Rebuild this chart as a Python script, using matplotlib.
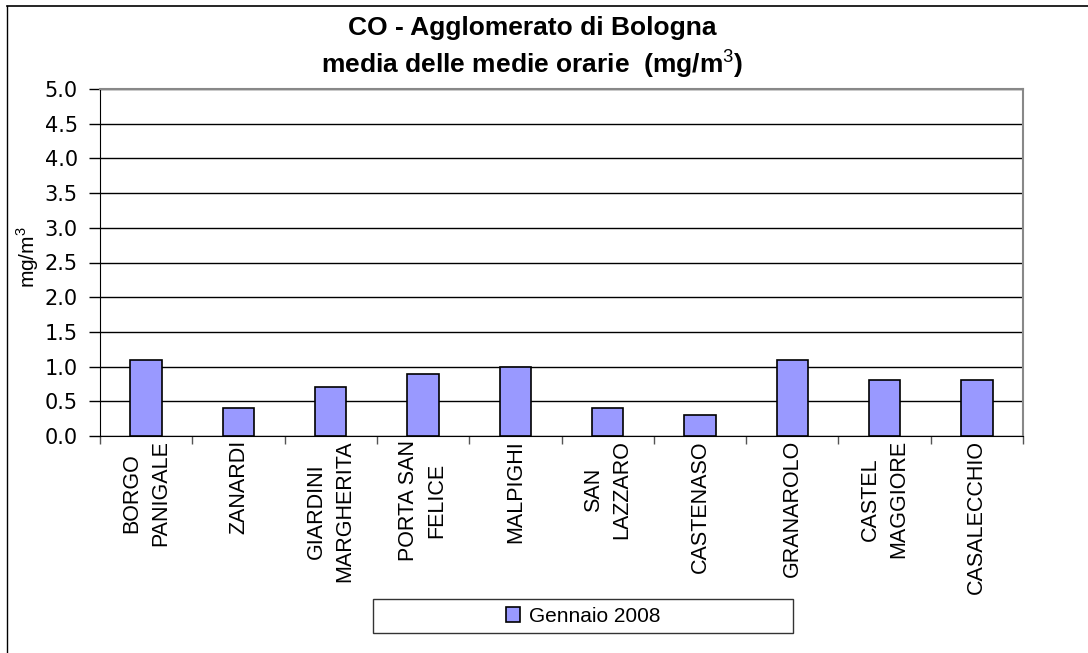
import matplotlib
matplotlib.use("Agg")
import numpy as np
import matplotlib.pyplot as plt
from matplotlib.lines import Line2D
from matplotlib.patches import Rectangle

# dati
stazioni = ['BORGO\nPANIGALE', 'ZANARDI', 'GIARDINI\nMARGHERITA', 'PORTA SAN\nFELICE',
            'MALPIGHI', 'SAN\nLAZZARO', 'CASTENASO', 'GRANAROLO', 'CASTEL\nMAGGIORE',
            'CASALECCHIO']
gennaio_2008 = [1.1, 0.4, 0.7, 0.9, 1.0, 0.4, 0.3, 1.1, 0.8, 0.8]
yticks = [0.0, 0.5, 1.0, 1.5, 2.0, 2.5, 3.0, 3.5, 4.0, 4.5, 5.0]

plt.rcParams['font.family'] = ['Liberation Sans', 'DejaVu Sans']
plt.rcParams['mathtext.fontset'] = 'custom'
plt.rcParams['mathtext.rm'] = 'Liberation Sans'

W, H = 1088, 653
fig = plt.figure(figsize=(W/100, H/100), dpi=100)
ax = fig.add_axes([100/W, 1-436/H, 923/W, 347/H])

x = np.arange(len(stazioni))
ax.bar(x, gennaio_2008, width=0.34, color='#9999FF', edgecolor='black',
       linewidth=1.2, zorder=3, label='Gennaio 2008')

ax.set_xlim(-0.5, len(stazioni)-0.5)
ax.set_ylim(0, 5)
ax.set_yticks(yticks)
ax.set_yticklabels(['%.1f' % v for v in yticks], fontsize=15, family='DejaVu Sans')
ax.yaxis.grid(True, color='black', linewidth=1)
ax.set_axisbelow(True)

ax.set_xticks(x)
ax.set_xticklabels(stazioni, rotation=90, fontsize=15.5, ha='center', va='top',
                   multialignment='center', linespacing=1.45)
ax.set_xticks(np.arange(len(stazioni)+1)-0.5, minor=True)
ax.tick_params(axis='x', which='major', length=0, pad=3)
ax.tick_params(axis='x', which='minor', length=6, width=1, color='#555555')
ax.tick_params(axis='y', length=8, width=1, pad=8)

for s in ['top', 'right']:
    ax.spines[s].set_color('#888888')
    ax.spines[s].set_linewidth(1.5)
ax.spines['left'].set_color('black')
ax.spines['bottom'].set_color('black')

fig.text(532/W, 1-28/H, 'CO - Agglomerato di Bologna', ha='center', va='center',
         fontsize=19, fontweight='bold')
fig.text(532/W, 1-64/H, 'media delle medie orarie  (mg/m$^3$)', ha='center', va='center',
         fontsize=19, fontweight='bold')
fig.text(28/W, 1-257/H, 'mg/m$^3$', rotation=90, ha='center', va='center', fontsize=15)

# legenda
fig.patches.append(Rectangle((373/W, 1-633/H), 420/W, 34/H, transform=fig.transFigure,
                             facecolor='white', edgecolor='#333333', linewidth=1))
fig.legend(loc='center', bbox_to_anchor=(583/W, 1-616/H), frameon=False, fontsize=15,
           handlelength=0.7, handleheight=0.7, handletextpad=0.4)

# cornice esterna
fig.lines.append(Line2D([7/W, 7/W], [0, 1-6/H], transform=fig.transFigure, color='black', lw=1))
fig.lines.append(Line2D([7/W, 1], [1-6/H, 1-6/H], transform=fig.transFigure, color='black', lw=1.2))

fig.savefig('out.png', dpi=100)
